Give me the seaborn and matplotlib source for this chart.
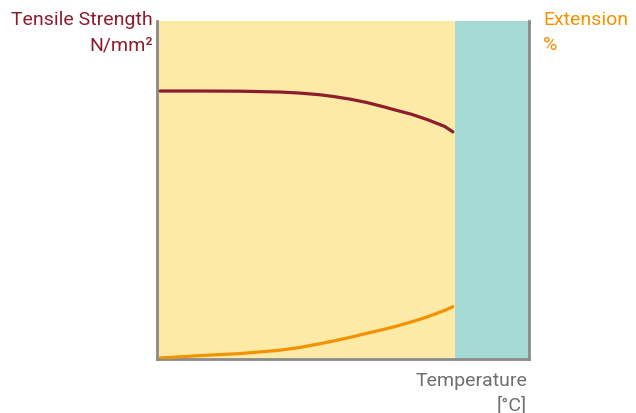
import matplotlib
matplotlib.use("Agg")
import matplotlib.pyplot as plt
import seaborn as sns
import pandas as pd

# values (axes in % of range)
temp = [0.7, 11.3, 22.1, 32.9, 38.2, 43.6, 47.2, 51.8, 56.3, 60.6, 63.9, 68.4, 72.7, 77.3, 79.5]
strength = [79.4, 79.4, 79.35, 79.1, 78.8, 78.3, 77.8, 77.0, 76.0, 74.8, 73.8, 72.5, 70.9, 68.9, 67.3]
extension = [0.3, 1.0, 1.6, 2.6, 3.4, 4.5, 5.3, 6.4, 7.6, 8.7, 9.6, 11.0, 12.5, 14.4, 15.5]
zone_limit = 80  # start of the teal zone

red = "#8c1d2c"
orange = "#f39200"
grey = "#6f6f6f"

df = pd.DataFrame({"temp": temp, "strength": strength, "extension": extension})

sns.set_style("white")
plt.rcParams["font.family"] = ["Roboto", "DejaVu Sans"]

fig = plt.figure(figsize=(6.36, 4.14), dpi=100)
ax = fig.add_axes([0.2476, 0.1304, 0.5842, 0.8153])

ax.axvspan(0, zone_limit, color="#fdeaa7", lw=0, zorder=0)
ax.axvspan(zone_limit, 100, color="#a6dad4", lw=0, zorder=0)

sns.lineplot(data=df, x="temp", y="strength", color=red, lw=2.3, ax=ax, zorder=3)
sns.lineplot(data=df, x="temp", y="extension", color=orange, lw=2.3, ax=ax, zorder=3)

ax.set_xlim(0, 100)
ax.set_ylim(0, 100)
ax.set_xticks([])
ax.set_yticks([])
ax.set_xlabel("")
ax.set_ylabel("")
ax.spines["top"].set_visible(False)
for s in ["left", "right", "bottom"]:
    ax.spines[s].set_color("#8a8a8a")
    ax.spines[s].set_linewidth(2)

fs = 14
fig.text(153 / 636, 1 - 25 / 414, "Tensile Strength", color=red, fontsize=fs, ha="right", va="baseline")
fig.text(153 / 636, 1 - 50 / 414, "N/mm²", color=red, fontsize=fs, ha="right", va="baseline")
fig.text(543 / 636, 1 - 25 / 414, "Extension", color=orange, fontsize=fs, ha="left", va="baseline")
fig.text(543 / 636, 1 - 50 / 414, "%", color=orange, fontsize=fs, ha="left", va="baseline")
fig.text(527 / 636, 1 - 386 / 414, "Temperature", color=grey, fontsize=fs, ha="right", va="baseline")
fig.text(527 / 636, 1 - 411 / 414, "[°C]", color=grey, fontsize=fs, ha="right", va="baseline")

fig.savefig("out.png", dpi=100)
